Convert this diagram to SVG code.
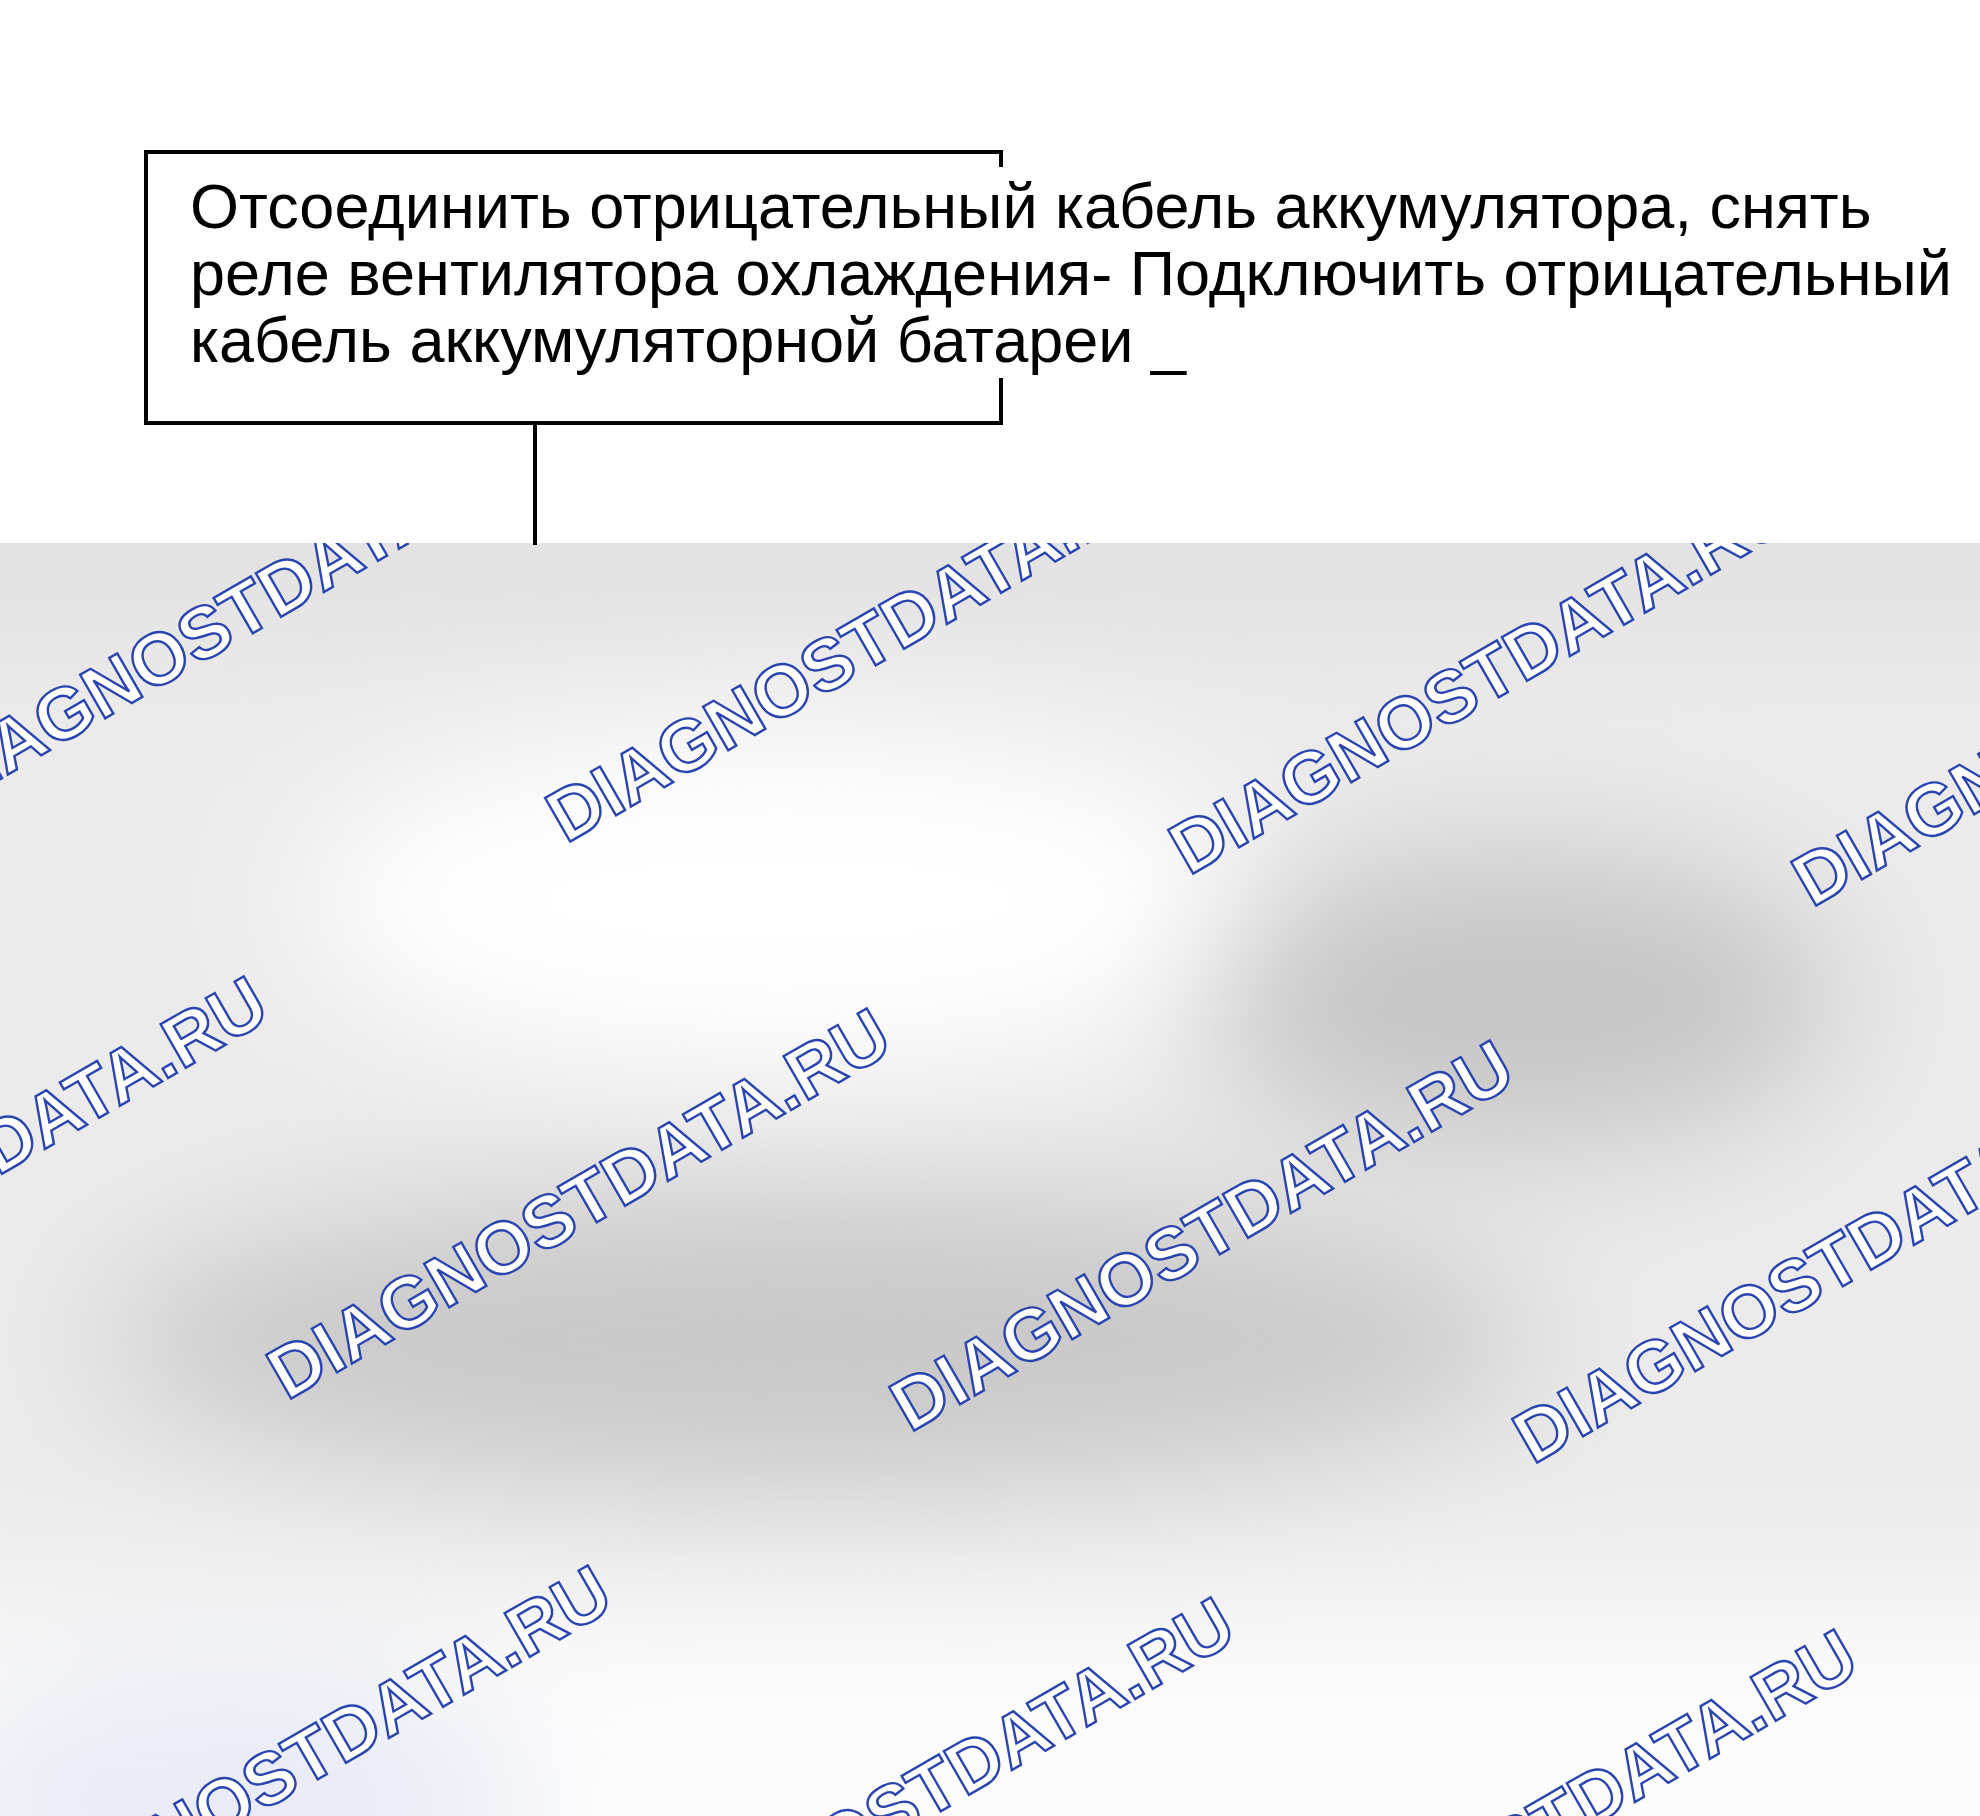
<svg xmlns="http://www.w3.org/2000/svg" xmlns:xlink="http://www.w3.org/1999/xlink" width="1980" height="1816" viewBox="0 0 1980 1816">
<defs>
<style>
.lbl{font-family:"Liberation Sans",Arial,sans-serif;font-size:63px;fill:#000}
.wm{font-family:"Liberation Sans",Arial,sans-serif;font-weight:bold;font-size:73px;fill:#fff;stroke:#2a44b0;stroke-width:2.4}
.edge{fill:none;stroke:#000;stroke-width:4}
</style>
<filter id="blur" x="-50%" y="-50%" width="200%" height="200%"><feGaussianBlur stdDeviation="70"/></filter>
<clipPath id="gclip"><rect x="0" y="543" width="1980" height="1273"/></clipPath>
<text id="wm" class="wm" transform="rotate(-30)">DIAGNOSTDATA.RU</text>
</defs>
<rect width="1980" height="1816" fill="#fff"/>
<g id="background" clip-path="url(#gclip)">
<rect x="0" y="543" width="1980" height="1273" fill="#ebebeb"/>
<g filter="url(#blur)">
<rect x="-200" y="470" width="2400" height="150" fill="#e0e0e0"/>
<ellipse cx="780" cy="900" rx="480" ry="170" fill="#ffffff"/>
<ellipse cx="1520" cy="1000" rx="320" ry="150" fill="#c6c6c6"/>
<ellipse cx="820" cy="1340" rx="720" ry="150" fill="#c9c9c9"/>
<rect x="-200" y="1600" width="2400" height="400" fill="#fcfcfc"/>
<ellipse cx="230" cy="1800" rx="300" ry="130" fill="#e8ebf6"/>
</g>
<use xlink:href="#wm" transform="translate(-57,812)"/>
<use xlink:href="#wm" transform="translate(566,844)"/>
<use xlink:href="#wm" transform="translate(1189,876)"/>
<use xlink:href="#wm" transform="translate(1812,908)"/>
<use xlink:href="#wm" transform="translate(-336,1369)"/>
<use xlink:href="#wm" transform="translate(287,1401)"/>
<use xlink:href="#wm" transform="translate(910,1433)"/>
<use xlink:href="#wm" transform="translate(1533,1465)"/>
<use xlink:href="#wm" transform="translate(8,1958)"/>
<use xlink:href="#wm" transform="translate(631,1990)"/>
<use xlink:href="#wm" transform="translate(1254,2022)"/>
</g>
<g id="connectors">
<line class="edge" x1="535" y1="423" x2="535" y2="545"/>
</g>
<g id="node-1">
<path class="edge" d="M1001,167 V152 H146 V423 H1001 V378"/>
<text class="lbl" x="190" y="228">Отсоединить отрицательный кабель аккумулятора, снять</text>
<text class="lbl" x="190" y="295">реле вентилятора охлаждения- Подключить отрицательный</text>
<text class="lbl" x="190" y="362">кабель аккумуляторной батареи _</text>
</g>
</svg>
